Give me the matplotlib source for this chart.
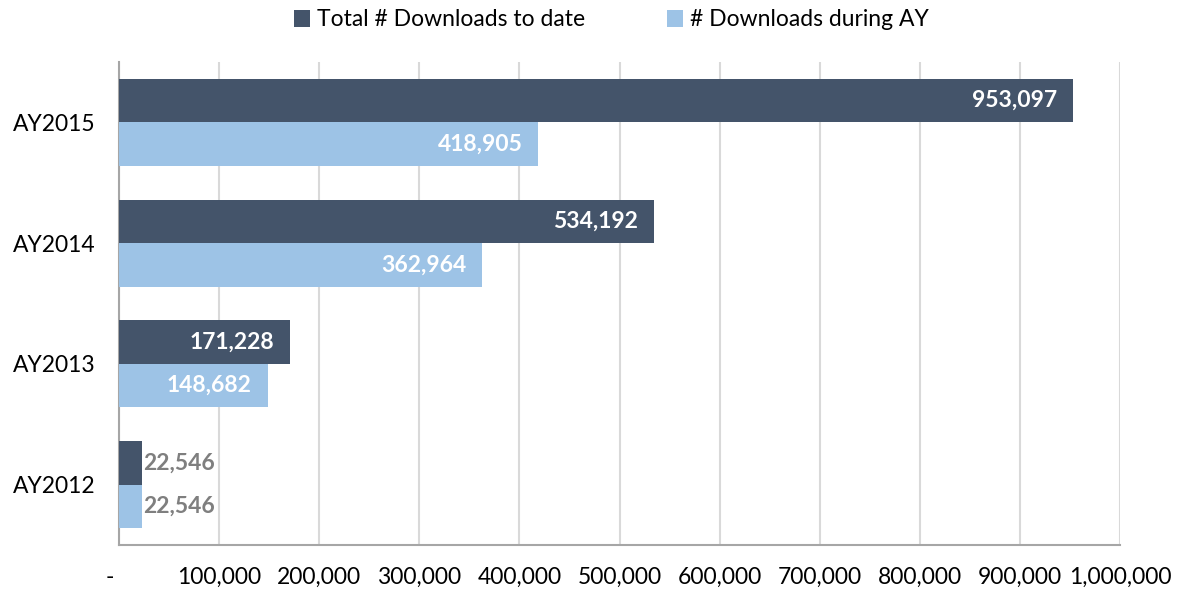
import matplotlib
matplotlib.use("Agg")
import matplotlib.pyplot as plt
import numpy as np

categories = ["AY2012", "AY2013", "AY2014", "AY2015"]
total_to_date = [22546, 171228, 534192, 953097]
during_ay = [22546, 148682, 362964, 418905]
series_names = ["Total # Downloads to date", "# Downloads during AY"]
xticks = [0, 100000, 200000, 300000, 400000, 500000, 600000, 700000, 800000, 900000, 1000000]

plt.rcParams['font.family'] = ['Lato', 'DejaVu Sans']

dark = "#44546A"
light = "#9DC3E6"
fs = 16.5

fig = plt.figure(figsize=(11.87, 5.92), dpi=100)
ax = fig.add_axes([119/1187, 47/592, 1001/1187, 483/592])

y = np.arange(len(categories))
h = 0.36
b1 = ax.barh(y + h/2, total_to_date, height=h, color=dark, label=series_names[0], zorder=3)
b2 = ax.barh(y - h/2, during_ay, height=h, color=light, label=series_names[1], zorder=3)

for bars, vals in ((b1, total_to_date), (b2, during_ay)):
    for rect, v in zip(bars, vals):
        yc = rect.get_y() + rect.get_height()/2
        if v > 100000:
            ax.annotate(f"{v:,}", (v, yc), xytext=(-11.5, 0), textcoords="offset points",
                        ha="right", va="center", color="white", fontsize=fs, fontweight="bold", zorder=4)
        else:
            ax.annotate(f"{v:,}", (v, yc), xytext=(1, 0), textcoords="offset points",
                        ha="left", va="center", color="#7F7F7F", fontsize=fs, fontweight="bold", zorder=4)

ax.set_xlim(0, 1000000)
ax.set_ylim(-0.5, 3.5)
ax.set_xticks(xticks)
ax.set_xticklabels(["-   "] + [f"{t:,}" for t in xticks[1:]])
ax.set_yticks(y)
ax.set_yticklabels(categories)
ax.tick_params(axis="both", length=0, labelsize=fs, colors="black")
ax.tick_params(axis="x", pad=16)
ax.tick_params(axis="y", pad=17)

ax.grid(axis="x", color="#D9D9D9", linewidth=1.5, zorder=0)
for s in ("top", "right"):
    ax.spines[s].set_visible(False)
for s in ("left", "bottom"):
    ax.spines[s].set_color("#A6A6A6")
    ax.spines[s].set_linewidth(1.5)

fig.legend(handles=[b1, b2], labels=series_names, loc="center", bbox_to_anchor=(0.515, 1 - 20/592),
           ncol=2, frameon=False, fontsize=fs, handlelength=0.7, handleheight=0.7,
           handletextpad=0.3, columnspacing=3.6)

fig.savefig("out.png", dpi=100)
